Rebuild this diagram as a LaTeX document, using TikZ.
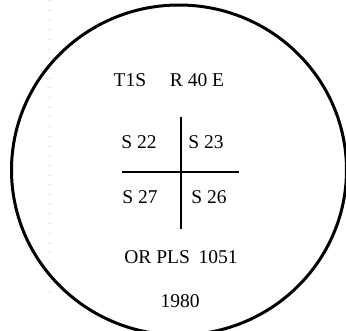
\documentclass[tikz,border=0pt]{standalone}
\usepackage{fontspec}
\setmainfont{Liberation Serif}
\begin{document}
\begin{tikzpicture}[x=1pt,y=-1pt,
  lbl/.style={anchor=base,inner sep=0pt,font=\fontsize{19.5}{22}\selectfont},
  bar/.style={line width=2.8pt,line cap=butt}]
\useasboundingbox (0,0) rectangle (346,330);
\clip (0,0) rectangle (346,330);
% faint scan guide line
\draw[black!30,line width=0.7pt,dash pattern=on 0.7pt off 9pt] (49.5,0) -- (49.5,300);
% outer circle
\draw[line width=3pt] (179,170) ellipse [x radius=167.5, y radius=165];
% texts
\node[lbl] (t1s) at (130,86) {T1S};
\node[lbl] (r40) at (197,86) {R 40 E};
\node[lbl] (s22) at (139,148) {S 22};
\node[lbl] (s23) at (206,148) {S 23};
\node[lbl] (s27) at (140,203) {S 27};
\node[lbl] (s26) at (209,203) {S 26};
\node[lbl] (orp) at (181,263) {OR PLS\hspace{0.45em}1051};
\node[lbl] (yr) at (180,307) {1980};
% cross
\coordinate (vt) at (181,117);
\coordinate (vb) at (181,229);
\coordinate (hl) at (122,172);
\coordinate (hr) at (239,172);
\draw[bar] (vt) -- (vb);
\draw[bar] (hl) -- (hr);
\end{tikzpicture}
\end{document}
